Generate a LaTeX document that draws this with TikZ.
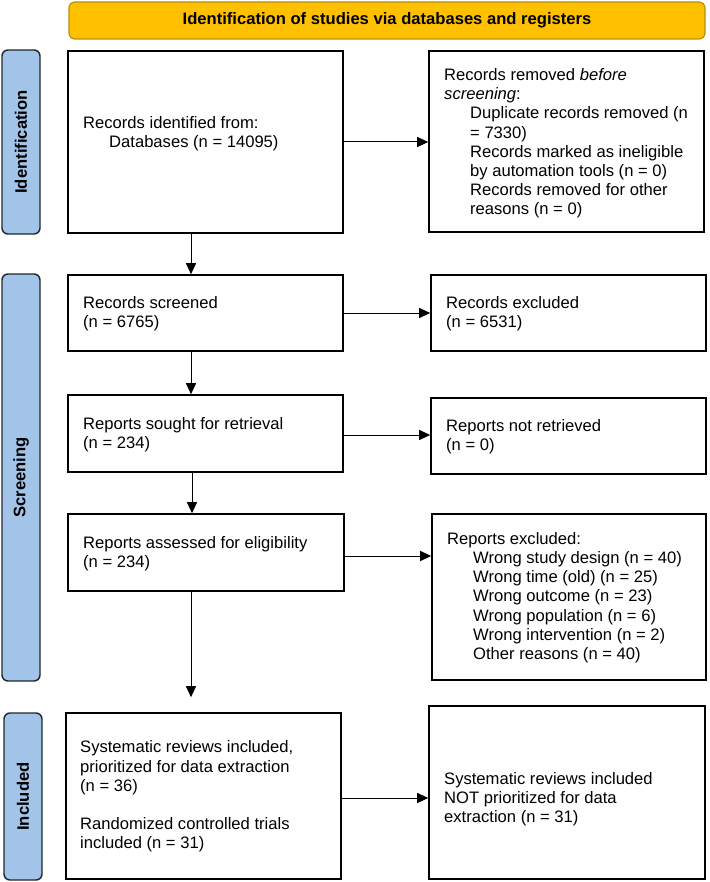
\documentclass[tikz,border=0pt]{standalone}
\usepackage{fontspec}
\setmainfont{Liberation Sans}
\usetikzlibrary{arrows.meta}
\definecolor{gold}{HTML}{FFC000}
\definecolor{goldline}{HTML}{B8900A}
\definecolor{lblue}{HTML}{A2C4E8}
\definecolor{dline}{HTML}{1E2630}
\begin{document}
\begin{tikzpicture}[x=1pt,y=-1pt,
  every node/.style={font=\fontsize{16.6}{19.2}\selectfont},
  flowbox/.style={draw=black, line width=1.6pt, fill=white, rectangle, inner sep=0pt},
  sidelab/.style={draw=dline, line width=1.4pt, fill=lblue, rounded corners=6pt, inner sep=0pt},
  sidetext/.style={rotate=90, font=\fontsize{16.6}{19.2}\selectfont\bfseries},
  txt/.style={anchor=west, align=left, inner sep=0pt},
  conn/.style={draw=black, line width=1pt, -{Triangle[length=11pt,width=10pt]}}
]
\useasboundingbox (0,0) rectangle (709,882);

% banner
\node[draw=goldline, line width=1.2pt, fill=gold, rounded corners=6pt, minimum width=636pt, minimum height=37pt, inner sep=0pt] (banner) at (387,20.5) {};
\node[font=\fontsize{16.6}{19.2}\selectfont\bfseries] (bannertxt) at (387,20.5) {Identification of studies via databases and registers};

% side labels
\node[sidelab, minimum width=38pt, minimum height=184pt] (idlab) at (21,142) {};
\node[sidetext] (idtxt) at (21,142) {Identification};
\node[sidelab, minimum width=38pt, minimum height=407pt] (scrlab) at (21,477.5) {};
\node[sidetext] (scrtxt) at (21,477.5) {Screening};
\node[sidelab, minimum width=38pt, minimum height=167pt] (inclab) at (23,796.5) {};
\node[sidetext] (inctxt) at (23,796.5) {Included};

% boxes
\node[flowbox, minimum width=275pt, minimum height=182pt] (box1) at (205.5,142) {};
\node[flowbox, minimum width=275pt, minimum height=181pt] (box2) at (566.5,141.5) {};
\node[flowbox, minimum width=275pt, minimum height=76pt] (screened) at (205.5,313) {};
\node[flowbox, minimum width=275pt, minimum height=76pt] (excl) at (568.5,313) {};
\node[flowbox, minimum width=275pt, minimum height=77pt] (sought) at (205.5,433.5) {};
\node[flowbox, minimum width=275pt, minimum height=76pt] (notret) at (568.5,436) {};
\node[flowbox, minimum width=276pt, minimum height=77pt] (assessed) at (206,552.5) {};
\node[flowbox, minimum width=274pt, minimum height=166pt] (rexcl) at (569,597) {};
\node[flowbox, minimum width=275pt, minimum height=166pt] (incl) at (203.5,796) {};
\node[flowbox, minimum width=276pt, minimum height=173pt] (notprio) at (567,792.5) {};

% texts
\node[txt] (t1) at (83,133.5) {Records identified from:\\\hspace*{26pt}Databases (n = 14095)};
\node[txt] (t2) at (444,143.5) {Records removed \textit{before}\\\textit{screening}:\\
\hspace*{26pt}Duplicate records removed (n\\\hspace*{26pt}= 7330)\\
\hspace*{26pt}Records marked as ineligible\\\hspace*{26pt}by automation tools (n = 0)\\
\hspace*{26pt}Records removed for other\\\hspace*{26pt}reasons (n = 0)};
\node[txt] (t3) at (83,314) {Records screened\\(n = 6765)};
\node[txt] (t4) at (446,314) {Records excluded\\(n = 6531)};
\node[txt] (t5) at (83,435) {Reports sought for retrieval\\(n = 234)};
\node[txt] (t6) at (446,437) {Reports not retrieved\\(n = 0)};
\node[txt] (t7) at (83,553.5) {Reports assessed for eligibility\\(n = 234)};
\node[txt] (t8) at (447,597.5) {Reports excluded:\\
\hspace*{26pt}Wrong study design (n = 40)\\
\hspace*{26pt}Wrong time (old) (n = 25)\\
\hspace*{26pt}Wrong outcome (n = 23)\\
\hspace*{26pt}Wrong population (n = 6)\\
\hspace*{26pt}Wrong intervention (n = 2)\\
\hspace*{26pt}Other reasons (n = 40)};
\node[txt] (t9) at (80,796.5) {Systematic reviews included,\\prioritized for data extraction\\(n = 36)\\[19.2pt]Randomized controlled trials\\included (n = 31)};
\node[txt] (t10) at (444,799) {Systematic reviews included\\NOT prioritized for data\\extraction (n = 31)};

% connectors
\coordinate (axis) at (191,0);
\coordinate (axisb) at (192,0);
\draw[conn] (box1.south -| axis) -- (screened.north -| axis);
\draw[conn] (screened.south -| axis) -- (sought.north -| axis);
\draw[conn] (sought.south -| axisb) -- (assessed.north -| axisb);
\coordinate (inctop) at ([yshift=15pt]incl.north -| axis);
\draw[conn] (assessed.south -| axis) -- (inctop);

\draw[conn] (box1.east) -- (box1.east -| box2.west);
\draw[conn] (screened.east) -- (screened.east -| excl.west);
\coordinate (sr) at ([yshift=-1.5pt]sought.east);
\draw[conn] (sr) -- (sr -| notret.west);
\coordinate (ar) at ([yshift=-3.5pt]assessed.east);
\draw[conn] (ar) -- (ar -| rexcl.west);
\coordinate (ir) at ([yshift=-2pt]incl.east);
\draw[conn] (ir) -- (ir -| notprio.west);
\end{tikzpicture}
\end{document}
